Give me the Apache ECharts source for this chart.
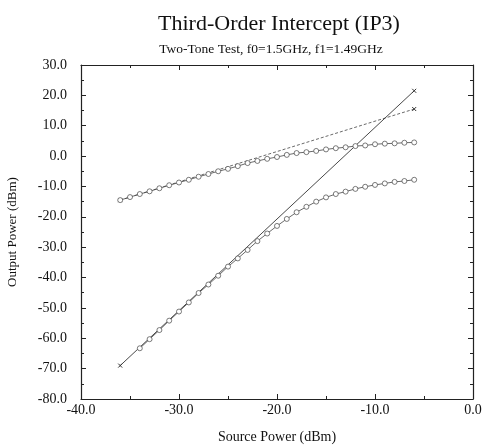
<!DOCTYPE html>
<html>
<head>
<meta charset="utf-8">
<script src="https://cdn.jsdelivr.net/npm/echarts@6/dist/echarts.min.js"></script>
<style>
  html, body { margin: 0; padding: 0; background: #fff; }
  #chart { width: 485px; height: 445px; }
</style>
</head>
<body>
<div id="chart"></div>
<script>
// source power sweep (dBm)
const fundX = [-36, -35, -34, -33, -32, -31, -30, -29, -28, -27, -26, -25, -24, -23, -22, -21,
  -20, -19, -18, -17, -16, -15, -14, -13, -12, -11, -10, -9, -8, -7, -6]
// measured fundamental output (dBm)
const fundY = [-14.5, -13.5, -12.5, -11.6, -10.6, -9.6, -8.7, -7.8, -6.8, -5.9, -5.0, -4.2, -3.3, -2.3, -1.6, -0.9,
  -0.3, 0.4, 1.0, 1.3, 1.7, 2.2, 2.6, 2.9, 3.3, 3.5, 3.9, 4.1, 4.2, 4.4, 4.5]
// measured third-order product (dBm)
const imX = [-34, -33, -32, -31, -30, -29, -28, -27, -26, -25, -24, -23, -22, -21,
  -20, -19, -18, -17, -16, -15, -14, -13, -12, -11, -10, -9, -8, -7, -6]
const imY = [-63.3, -60.3, -57.3, -54.2, -51.2, -48.2, -45.1, -42.3, -39.4, -36.4, -33.7, -30.9, -28.0, -25.5,
  -23.0, -20.7, -18.5, -16.7, -15.0, -13.6, -12.5, -11.7, -10.8, -10.1, -9.5, -9.0, -8.5, -8.2, -7.8]
// extrapolated lines (end points)
const fundLineX = [-36, -6]
const fundLineY = [-14.5, 15.5]
const imLineX = [-36, -6]
const imLineY = [-69, 21.5]

const pairs = (xs, ys) => xs.map((x, i) => [x, ys[i]])

const FONT = '"Liberation Serif", "DejaVu Serif", serif'
const INK = '#222'
const crossPath = 'path://M0,0L10,10M10,0L0,10'

const chart = echarts.init(document.getElementById('chart'))

const axisCommon = {
  type: 'value',
  axisLine: { show: true, onZero: false, lineStyle: { color: INK, width: 1.2 } },
  axisTick: { show: true, inside: true, length: 5, lineStyle: { color: INK } },
  minorTick: { show: true, splitNumber: 2, length: 3, lineStyle: { color: INK } },
  splitLine: { show: false },
}

const option = {
  animation: false,
  backgroundColor: '#fff',
  title: [
    {
      text: 'Third-Order Intercept (IP3)',
      left: 274,
      top: 8,
      textAlign: 'center',
      textStyle: { fontFamily: FONT, fontSize: 22, fontWeight: 'normal', color: '#111' },
    },
    {
      text: 'Two-Tone Test, f0=1.5GHz, f1=1.49GHz',
      left: 266,
      top: 37,
      textAlign: 'center',
      textStyle: { fontFamily: FONT, fontSize: 13.5, fontWeight: 'normal', color: '#111' },
    },
  ],
  grid: { left: 81, right: 12, top: 65, bottom: 46, outerBoundsMode: 'none' },
  xAxis: [
    {
      ...axisCommon,
      min: -40,
      max: 0,
      interval: 10,
      name: 'Source Power (dBm)',
      nameLocation: 'middle',
      nameGap: 31,
      nameTextStyle: { fontFamily: FONT, fontSize: 14, color: '#111' },
      axisLabel: {
        fontFamily: FONT,
        fontSize: 14,
        color: '#111',
        margin: 4,
        formatter: (v) => v.toFixed(1),
      },
    },
    {
      ...axisCommon,
      position: 'top',
      min: -40,
      max: 0,
      interval: 10,
      axisLabel: { show: false },
    },
  ],
  yAxis: [
    {
      ...axisCommon,
      min: -80,
      max: 30,
      interval: 10,
      name: 'Output Power (dBm)',
      nameLocation: 'middle',
      nameGap: 62,
      nameTextStyle: { fontFamily: FONT, fontSize: 13, color: '#111' },
      axisLabel: {
        fontFamily: FONT,
        fontSize: 14,
        color: '#111',
        margin: 14,
        formatter: (v) => v.toFixed(1),
      },
    },
    {
      ...axisCommon,
      position: 'right',
      min: -80,
      max: 30,
      interval: 10,
      axisLabel: { show: false },
    },
  ],
  series: [
    {
      name: 'Fundamental (extrapolated)',
      type: 'line',
      data: pairs(fundLineX, fundLineY),
      symbol: crossPath,
      symbolSize: 4,
      lineStyle: { color: '#444', width: 0.8, type: [3, 2] },
      itemStyle: { color: '#333', borderColor: '#333', borderWidth: 1 },
      z: 2,
    },
    {
      name: 'IM3 (extrapolated)',
      type: 'line',
      data: pairs(imLineX, imLineY),
      symbol: crossPath,
      symbolSize: 4,
      lineStyle: { color: '#333', width: 0.9 },
      itemStyle: { color: '#333', borderColor: '#333', borderWidth: 1 },
      z: 2,
    },
    {
      name: 'Fundamental',
      type: 'line',
      data: pairs(fundX, fundY),
      symbol: 'circle',
      symbolSize: 5,
      showAllSymbol: true,
      lineStyle: { color: '#444', width: 0.8 },
      itemStyle: { color: '#fff', borderColor: '#444', borderWidth: 0.7 },
      z: 3,
    },
    {
      name: 'IM3',
      type: 'line',
      data: pairs(imX, imY),
      symbol: 'circle',
      symbolSize: 5,
      showAllSymbol: true,
      lineStyle: { color: '#444', width: 0.8 },
      itemStyle: { color: '#fff', borderColor: '#444', borderWidth: 0.7 },
      z: 3,
    },
  ],
}

chart.setOption(option)
</script>
</body>
</html>
